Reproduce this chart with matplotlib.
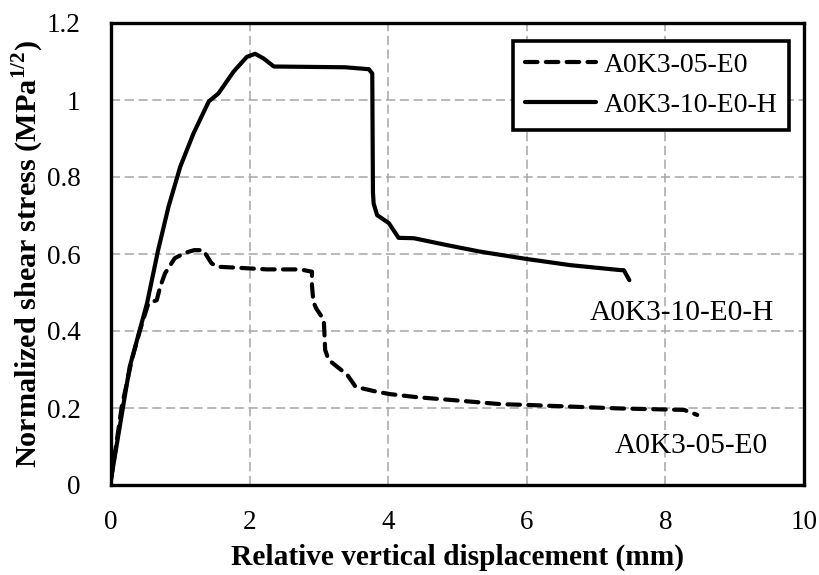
import matplotlib
matplotlib.use("Agg")
import matplotlib.pyplot as plt

# A0K3-05-E0 (dashed)
x05 = [0.0, 0.155, 0.30, 0.42, 0.54, 0.66, 0.71, 0.78, 0.92, 1.07, 1.20, 1.33, 1.45, 1.53,
       1.86, 2.25, 2.73, 2.90, 2.90, 2.92, 2.96, 3.07, 3.08, 3.09, 3.14, 3.41, 3.53, 3.84,
       4.03, 4.42, 4.90, 5.62, 6.00, 7.31, 8.27, 8.46]
y05 = [0.013, 0.203, 0.325, 0.403, 0.472, 0.480, 0.515, 0.550, 0.589, 0.603, 0.610, 0.610,
       0.576, 0.567, 0.564, 0.560, 0.560, 0.554, 0.519, 0.476, 0.459, 0.429, 0.394, 0.351,
       0.325, 0.286, 0.255, 0.242, 0.236, 0.228, 0.221, 0.210, 0.208, 0.199, 0.195, 0.182]

# A0K3-10-E0-H (solid)
x10 = [0.0, 0.27, 0.52, 0.68, 0.83, 1.00, 1.19, 1.41, 1.55, 1.77, 1.96, 2.08, 2.20, 2.35,
       3.38, 3.72, 3.77, 3.78, 3.79, 3.84, 4.01, 4.15, 4.37, 4.85, 5.33, 6.00, 6.63, 7.36,
       7.40, 7.48]
y10 = [0.015, 0.307, 0.472, 0.610, 0.723, 0.827, 0.913, 0.996, 1.017, 1.074, 1.112, 1.120,
       1.108, 1.087, 1.085, 1.080, 1.069, 0.760, 0.731, 0.701, 0.680, 0.642, 0.641, 0.623,
       0.606, 0.587, 0.571, 0.558, 0.558, 0.532]

label05 = "A0K3-05-E0"
label10 = "A0K3-10-E0-H"
xticks = [0, 2, 4, 6, 8, 10]
yticks = [0, 0.2, 0.4, 0.6, 0.8, 1.0, 1.2]
yticklabels = ["0", "0.2", "0.4", "0.6", "0.8", "1", "1.2"]

plt.rcParams['font.family'] = ['Liberation Serif', 'DejaVu Serif']
plt.rcParams['mathtext.fontset'] = 'custom'
plt.rcParams['mathtext.rm'] = 'Liberation Serif'
plt.rcParams['mathtext.bf'] = 'Liberation Serif:bold'
fs_tick = 19.5
fs_leg = 20.0
fs_ann = 21.2

fig = plt.figure(figsize=(8.19, 5.75), dpi=100)
ax = fig.add_axes([111/819, 1 - 485/575, (804-111)/819, (485-23)/575])

ax.plot(x05, y05, color='black', lw=3.0, linestyle=(0, (3.0, 2.0)),
        dash_capstyle='round', solid_joinstyle='round', label=label05)
ax.plot(x10, y10, color='black', lw=3.0, solid_capstyle='round',
        solid_joinstyle='round', label=label10)

ax.set_xlim(0, 10)
ax.set_ylim(0, 1.2)
ax.set_xticks(xticks)
ax.set_yticks(yticks)
ax.set_yticklabels(yticklabels)
ax.tick_params(axis='both', length=0, labelsize=fs_tick)
ax.tick_params(axis='x', pad=18)
ax.tick_params(axis='y', pad=22)
ax.grid(True, color='#a6a6a6', lw=1.1, linestyle=(0, (6, 3)))
ax.set_axisbelow(True)
for s in ax.spines.values():
    s.set_linewidth(2.4)
    s.set_color('black')

ax.set_xlabel("Relative vertical displacement (mm)", fontsize=21.2, fontweight='bold', labelpad=6)
ax.set_ylabel("Normalized shear stress (MPa$^{\\mathbf{1/2}}$)", fontsize=21.8,
              fontweight='bold')
ax.yaxis.set_label_coords(-0.094, 0.5)

ax.text(8.24, 0.4286, label10, fontsize=fs_ann, ha='center', va='baseline')
ax.text(8.38, 0.084, label05, fontsize=fs_ann, ha='center', va='baseline')

leg = ax.legend(loc='upper right', bbox_to_anchor=(0.979, 0.961), fontsize=fs_leg,
                frameon=True, fancybox=False, framealpha=1, edgecolor='black',
                handlelength=2.55, handletextpad=0.3, labelspacing=0.52,
                borderpad=0.42, borderaxespad=0)
leg.get_frame().set_linewidth(2.6)

fig.savefig("out.png", dpi=100)
